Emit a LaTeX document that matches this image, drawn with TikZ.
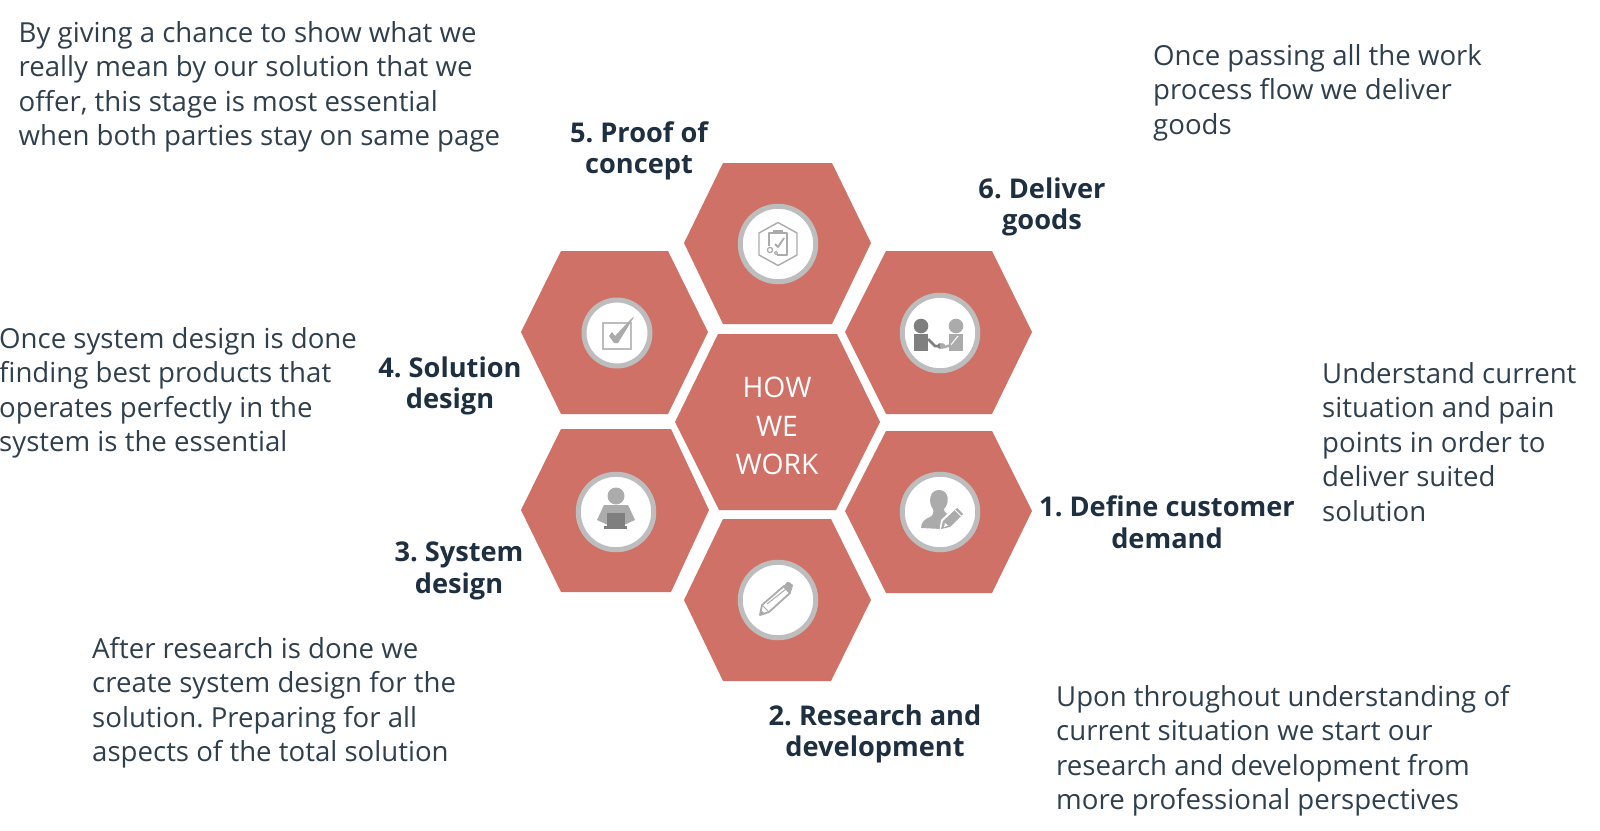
\documentclass[tikz,border=0pt]{standalone}
\usepackage{fontspec}
\setmainfont{Open Sans}
\frenchspacing
\definecolor{hexc}{HTML}{D07167}
\definecolor{ringc}{HTML}{BDBDBD}
\definecolor{icona}{HTML}{ABABAB}
\definecolor{iconb}{HTML}{7F7F7F}
\definecolor{bodyc}{HTML}{2F3F4C}
\definecolor{headc}{HTML}{1E2F40}
\tikzset{
  hexshape/.style={fill=hexc,draw=none},
  ringnode/.style={circle,draw=ringc,line width=5pt,fill=white,inner sep=0pt,minimum size=75.5pt},
  ringsmall/.style={circle,draw=ringc,line width=5pt,fill=white,inner sep=0pt,minimum size=66pt},
  bodytext/.style={anchor=north west,align=left,inner sep=0pt,text=bodyc,font=\fontsize{27.6}{34.5}\selectfont},
  headtext/.style={align=center,inner sep=0pt,text=headc,font=\fontsize{27.2}{31.5}\selectfont\bfseries},
  midtext/.style={align=center,inner sep=0pt,text=white,font=\fontsize{28.3}{38.5}\selectfont},
  iconline/.style={draw=icona,line width=1.4pt,line join=round},
  iconfill/.style={fill=icona,draw=none}
}
\begin{document}
\begin{tikzpicture}[x=1pt,y=-1pt]
\useasboundingbox (0,0) rectangle (1600,830);
% hexagons
\fill[hexshape] (723,163)--(832,163)--(871,243)--(832,324)--(723,324)--(684,243)--cycle;
\fill[hexshape] (886,251)--(992,251)--(1032,332)--(992,414)--(886,414)--(845,332)--cycle;
\fill[hexshape] (886,431)--(992,431)--(1032,511)--(992,593)--(886,593)--(845,511)--cycle;
\fill[hexshape] (723,519)--(831,519)--(871,600)--(831,681)--(723,681)--(684,600)--cycle;
\fill[hexshape] (561,429)--(671,429)--(709,510)--(671,592)--(561,592)--(521,510)--cycle;
\fill[hexshape] (561,251)--(668,251)--(708,332)--(668,414)--(561,414)--(521,332)--cycle;
\fill[hexshape] (718,334)--(837,334)--(880,422)--(836,510)--(719,510)--(675,422)--cycle;
% rings
\node[ringnode] (r5) at (778,244) {};
\node[ringnode] (r6) at (940,333) {};
\node[ringnode] (r1) at (940,512) {};
\node[ringnode] (r2) at (778,600) {};
\node[ringnode] (r3) at (616,512) {};
\node[ringsmall] (r4) at (617,333) {};
% icon 5
\begin{scope}[shift={(r5.center)}]
\draw[iconline] (0,-21.5)--(19,-11)--(19,11)--(0,21.5)--(-19,11)--(-19,-11)--cycle;
\draw[iconline] (-9,2)--(-9,-11)--(9,-11)--(9,11)--(-1,11);
\fill[icona] (-5,-14) rectangle (5,-10);
\draw[iconline,line width=1.8pt] (-3,0)--(0,3)--(6,-6);
\draw[iconline,line width=1.3pt] (-8,6) circle (2.6);
\draw[iconline,line width=1pt] (-2,9) circle (1.6);
\end{scope}
% icon 6
\begin{scope}[shift={(r6.center)}]
\fill[iconb] (-19,-7) circle (7.3);
\fill[iconb] (-26,1) rectangle (-12,18);
\draw[iconb,line width=2.5pt] (-12,6)--(-5,13)--(1,13);
\fill[icona] (16,-7) circle (7.3);
\fill[icona] (9,1) rectangle (23,18);
\draw[white,line width=1pt] (10,13)--(18,3);
\draw[icona,line width=2.5pt] (11,12)--(5,14)--(1,13);
\fill[iconb] (0,13) circle (2.8);
\fill[icona] (2.5,13) circle (2.8);
\end{scope}
% icon 1
\begin{scope}[shift={(r1.center)}]
\fill[icona] (-1,-22) .. controls (-11,-22) and (-12,-9) .. (-7,-3)
  .. controls (-6,1) and (-7,3) .. (-10,5)
  .. controls (-15,7) and (-19,10) .. (-19,16)
  -- (2,17) -- (12,3)
  .. controls (7,2) and (4,1) .. (4,-3)
  .. controls (10,-9) and (9,-22) .. (-1,-22) -- cycle;
\fill[white] (-1,21) -- (1,8) -- (17,-8) -- (28,2) -- (12,19) -- cycle;
\fill[icona] (1,17) -- (3,9) -- (17,-4) -- (23,2) -- (10,15) -- cycle;
\fill[white] (4,15) -- (5,11) -- (8,13.5) -- cycle;
\draw[white,line width=.8pt] (15,-2) -- (21,4);
\end{scope}
% icon 2
\begin{scope}[shift={(r2.center)}]
\draw[icona,line width=1.8pt,line join=round] (-18,15)--(-16,5)--(6,-14)--(12,-7)--(-9,12)--cycle;
\draw[icona,line width=1pt] (-16,5)--(-9,12);
\draw[icona,line width=1pt] (-11,4)--(8,-11);
\fill[icona] (9,-18)--(11,-18)--(15,-15)--(14,-11)--(12,-6)--(5,-13)--cycle;
\fill[icona] (-18,15)--(-17,10)--(-13,14)--cycle;
\end{scope}
% icon 3
\begin{scope}[shift={(r3.center)}]
\fill[icona] (0,-16) circle (8.5);
\fill[icona] (-12,-7)--(12,-7)--(19,8)--(8,13)--(-8,13)--(-19,8)--cycle;
\fill[iconb] (-9,1) rectangle (9,15);
\fill[iconb] (-12,14) rectangle (11,17);
\end{scope}
% icon 4
\begin{scope}[shift={(r4.center)}]
\draw[ringc,line width=1.5pt] (-14,-10) rectangle (14,16);
\fill[icona] (-8,3)--(-5,-1)--(-2,3)--(15,-15)--(17,-16)--(1,10)--(-3,10)--cycle;
\end{scope}
% centre
\node[midtext] (how) at (777,426) {HOW\\WE\\WORK};
% heads
\node[headtext] (h5) at (639,151) {5. Proof of\\concept};
\node[headtext] (h6) at (1042,207) {6. Deliver\\goods};
\node[headtext] (h4) at (450,386) {4. Solution\\design};
\node[headtext] (h3) at (459,571) {3. System\\design};
\node[headtext] (h1) at (1167,522) {1. Define customer\\demand};
\node[headtext] (h2) at (875,734) {2. Research and\\development};
% body
\node[bodytext] (t5) at (18.5,21) {By giving a chance to show what we\\really mean by our solution that we\\offer, this stage is most essential\\when both parties stay on same page};
\node[bodytext] (t6) at (1153,44) {Once passing all the work\\process flow we deliver\\goods};
\node[bodytext] (t4) at (-1,327) {Once system design is done\\finding best products that\\operates perfectly in the\\system is the essential};
\node[bodytext] (t1) at (1322,362) {Understand current\\situation and pain\\points in order to\\deliver suited\\solution};
\node[bodytext] (t3) at (92,637) {After research is done we\\create system design for the\\solution. Preparing for all\\aspects of the total solution};
\node[bodytext] (t2) at (1056,685) {Upon throughout understanding of\\current situation we start our\\research and development from\\more professional perspectives};
\end{tikzpicture}
\end{document}
